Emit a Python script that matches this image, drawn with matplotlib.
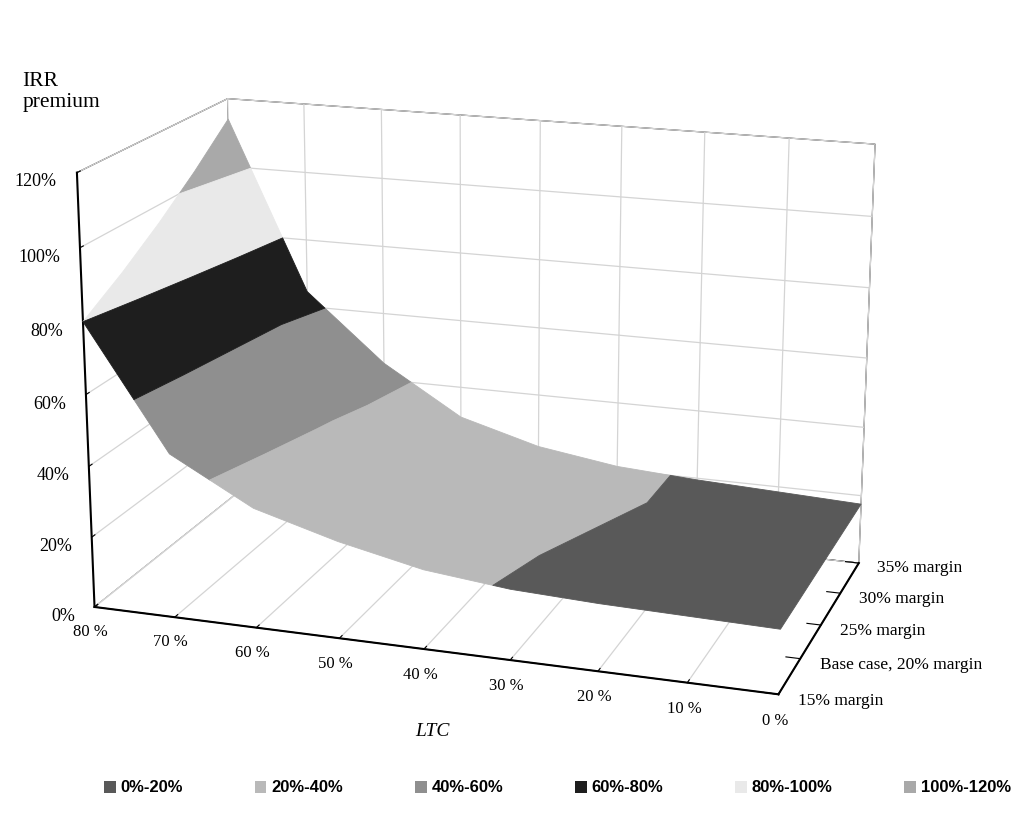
import numpy as np
import matplotlib.pyplot as plt
import contourpy
from matplotlib.patches import Patch
from mpl_toolkits.mplot3d.art3d import Poly3DCollection

# DATA
ltc_labels = ['80 %', '70 %', '60 %', '50 %', '40 %', '30 %', '20 %', '10 %', '0 %']
margin_labels = ['15% margin', 'Base case, 20% margin', '25% margin', '30% margin', '35% margin']
# IRR premium in %, one row per margin case, LTC 80% -> 0%
prem_15 = [80, 46, 33.5, 27, 22, 19.5, 18.5, 18, 17.5]
prem_20 = [87, 50, 36, 28.5, 23, 20, 19, 18, 17.5]
prem_25 = [95, 54, 39, 29.5, 23.5, 20.5, 19, 18.5, 17.5]
prem_30 = [104, 59, 42, 30.5, 24, 21, 19.5, 18.5, 17.5]
prem_35 = [114, 64.5, 45, 31, 24.5, 21, 19.5, 18.5, 17.5]

band_edges = [0, 20, 40, 60, 80, 100, 120]
band_labels = ['0%-20%', '20%-40%', '40%-60%', '60%-80%', '80%-100%', '100%-120%']
band_colors = ['#595959', '#b9b9b9', '#8f8f8f', '#1e1e1e', '#e9e9e9', '#a9a9a9']

serif = 'Liberation Serif'

Z = np.array([prem_15, prem_20, prem_25, prem_30, prem_35])
ny, nx = Z.shape
gx = np.arange(nx)
gy = np.arange(ny)


def surf_height(px, py):
    # bilinear height of the surface at (px, py) in grid units
    i = np.clip(np.floor(px).astype(int), 0, nx - 2)
    j = np.clip(np.floor(py).astype(int), 0, ny - 2)
    fx = px - i
    fy = py - j
    return (Z[j, i] * (1 - fx) * (1 - fy) + Z[j, i + 1] * fx * (1 - fy)
            + Z[j + 1, i] * (1 - fx) * fy + Z[j + 1, i + 1] * fx * fy)


# colour bands of the surface (filled contours lifted onto the surface)
gen = contourpy.contour_generator(gx, gy, Z, name='serial', fill_type='OuterOffset')
polys, cols = [], []
for lo, hi, col in zip(band_edges[:-1], band_edges[1:], band_colors):
    pts_list, offs_list = gen.filled(lo, hi)
    for pts, offs in zip(pts_list, offs_list):
        p = pts[offs[0]:offs[1]]
        pz = np.clip(surf_height(p[:, 0], p[:, 1]), lo, hi)
        polys.append(np.column_stack([p, pz]))
        cols.append(col)

# PLOT
fig = plt.figure(figsize=(10.23, 8.4), dpi=100)
ax = fig.add_axes([-0.037, 0.08, 1.0, 0.92], projection='3d',
                  proj_type='persp', focal_length=0.72)
ax.view_init(elev=17, azim=-71.5)
ax.set_box_aspect((2.2, 1.15, 1.4), zoom=1.14)

surf = Poly3DCollection(polys, facecolors=cols, edgecolors=cols, linewidths=0.6)
surf.set_clip_on(False)
ax.add_collection3d(surf)

ax.set_xlim(0, nx - 1)
ax.set_ylim(0, ny - 1)
ax.set_zlim(0, 120)

for axis in (ax.xaxis, ax.yaxis, ax.zaxis):
    axis.set_pane_color((1, 1, 1, 1))
    axis.pane.set_edgecolor('black')
    axis.pane.set_linewidth(0.8)
    axis._axinfo['grid'].update(color='#d4d4d4', linewidth=0.9)
    axis._axinfo['tick'].update(inward_factor=0.0, outward_factor=0.25)
    axis.line.set_linewidth(1.5)
ax.yaxis._axinfo['grid'].update(color=(1, 1, 1, 0))
ax.zaxis.set_ticks_position('lower')

ax.set_xticks(range(nx))
ax.set_xticklabels(ltc_labels, fontsize=12, family=serif)
ax.set_yticks(range(ny))
ax.set_yticklabels(margin_labels, fontsize=12.5, family=serif, ha='left', va='bottom')
ax.set_zticks(band_edges)
ax.set_zticklabels([f'{v}%' for v in band_edges], fontsize=13, family=serif, ha='right')
ax.tick_params(axis='x', pad=1)
ax.tick_params(axis='y', pad=0)
ax.tick_params(axis='z', pad=-1)

fig.text(0.022, 1 - 72 / 840, 'IRR\npremium', family=serif, fontsize=15.5,
         va='top', ha='left', linespacing=1.15)
fig.text(432 / 1023, 1 - 732 / 840, 'LTC', family=serif, fontsize=14,
         style='italic', ha='center', va='center')

handles = [Patch(facecolor=c, edgecolor='none') for c in band_colors]
fig.legend(handles, band_labels, loc='center', bbox_to_anchor=(0.545, 1 - 788 / 840),
           ncol=6, frameon=False, handlelength=0.7, handleheight=0.7,
           handletextpad=0.3, columnspacing=4.3,
           prop={'family': ['Liberation Sans Narrow', 'Liberation Sans'],
                 'weight': 'bold', 'size': 12})

fig.savefig('out.png', dpi=100)
